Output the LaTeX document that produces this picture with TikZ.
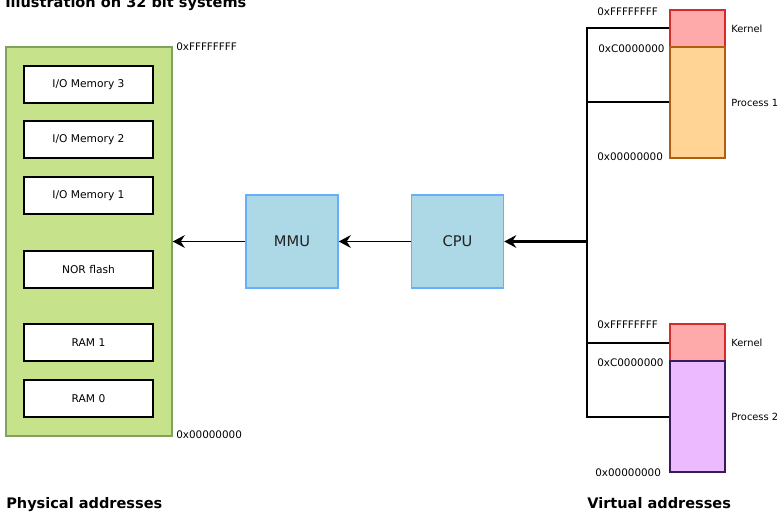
\documentclass[tikz,border=0pt]{standalone}
\usepackage{fontspec}
\setmainfont{DejaVu Sans}
\usetikzlibrary{arrows.meta,positioning,calc}
\definecolor{ink}{HTML}{000000}
\definecolor{ink2}{HTML}{222222}
\definecolor{physfill}{HTML}{C6E38C}
\definecolor{physline}{HTML}{7FA35C}
\definecolor{unitfill}{HTML}{ADD8E6}
\definecolor{unitline}{HTML}{66AFFF}
\definecolor{kernfill}{HTML}{FFAAAA}
\definecolor{kernline}{HTML}{D42B2B}
\definecolor{procAfill}{HTML}{FFD495}
\definecolor{procAline}{HTML}{B05F12}
\definecolor{procBfill}{HTML}{ECBBFF}
\definecolor{procBline}{HTML}{3B1A5B}
\tikzset{
  every node/.style={font=\fontsize{7.4}{9}\selectfont, text=ink},
  region/.style={draw=ink, fill=white, line width=1.1pt, minimum width=96.75pt, minimum height=27.75pt, inner sep=0pt, font=\fontsize{8}{10}\selectfont},
  unit/.style={draw=unitline, fill=unitfill, line width=1.1pt, minimum width=69pt, minimum height=69.75pt, inner sep=0pt, font=\fontsize{11}{13}\selectfont, text=ink2},
  kern/.style={draw=kernline, fill=kernfill, line width=1.1pt, minimum width=41.25pt, minimum height=27.75pt, inner sep=0pt},
  proc/.style={line width=1.1pt, minimum width=41.25pt, minimum height=83.25pt, inner sep=0pt},
  addr/.style={anchor=west, inner sep=0pt, font=\fontsize{7.8}{9}\selectfont},
  heading/.style={anchor=west, inner sep=0pt, font=\fontsize{10.9}{13}\selectfont\bfseries},
  bus/.style={draw=ink, line width=1.5pt},
  arr/.style={-{Stealth[length=9pt, width=9.5pt, inset=3pt]}, draw=ink, line width=1.4pt},
}

\begin{document}
\begin{tikzpicture}[x=0.75pt, y=-0.75pt]
  \useasboundingbox (0,0) rectangle (778,513);

  % physical side
  \node[draw=physline, fill=physfill, line width=1.1pt, minimum width=124.5pt, minimum height=291.75pt, inner sep=0pt] (phys) at (89,241.5) {};
  \node[region] (io3) at (88.5,84.5) {I/O Memory 3};
  \node[region] (io2) at (88.5,139.5) {I/O Memory 2};
  \node[region] (io1) at (88.5,195.5) {I/O Memory 1};
  \node[region] (nor) at (88.5,269.5) {NOR flash};
  \node[region] (ram1) at (88.5,342.5) {RAM 1};
  \node[region] (ram0) at (88.5,398.5) {RAM 0};
  \node[addr] (ptop) at (176,47) {0xFFFFFFFF};
  \node[addr] (pbot) at (176,435) {0x00000000};

  % translation
  \node[unit] (mmu) at (292,241.5) {MMU};
  \node[unit] (cpu) at (457.5,241.5) {CPU};

  % virtual side
  \node[kern] (kernA) at (697.5,28.5) {};
  \node[proc, draw=procAline, fill=procAfill] (procA) at (697.5,102.5) {};
  \node[kern] (kernB) at (697.5,342.5) {};
  \node[proc, draw=procBline, fill=procBfill] (procB) at (697.5,416.5) {};
  \node[anchor=west, inner sep=0pt, right=4pt of kernA] (kernAlab) {Kernel};
  \node[anchor=west, inner sep=0pt, right=4pt of procA] (procAlab) {Process 1};
  \node[anchor=west, inner sep=0pt, right=4pt of kernB] (kernBlab) {Kernel};
  \node[anchor=west, inner sep=0pt, right=4pt of procB] (procBlab) {Process 2};
  \node[addr] (vAtop) at (597,12) {0xFFFFFFFF};
  \node[addr] (vAmid) at (598,49) {0xC0000000};
  \node[addr] (vAbot) at (597,157) {0x00000000};
  \node[addr] (vBtop) at (597,325) {0xFFFFFFFF};
  \node[addr] (vBmid) at (597,363) {0xC0000000};
  \node[addr] (vBbot) at (595,473) {0x00000000};

  \coordinate (vtop) at (587,28.5);
  \coordinate (vbot) at (587,416.5);
  \coordinate (vmid) at (587,241.5);
  \draw[bus] (kernA.west) -- (vtop) -- (vbot) -- (procB.west);
  \draw[bus] (procA.west) -- (procA.west -| vtop);
  \draw[bus] (kernB.west) -- (kernB.west -| vtop);

  \draw[arr, line width=2pt] (vmid) -- (cpu.east);
  \draw[arr] (cpu.west) -- (mmu.east);
  \draw[arr] (mmu.west) -- (phys.east |- mmu);

  % headings
  \node[heading] (title) at (5,4) {Illustration on 32 bit systems};
  \node[heading] (physlab) at (6,505) {Physical addresses};
  \node[heading] (virtlab) at (587,503) {Virtual addresses};
\end{tikzpicture}
\end{document}
